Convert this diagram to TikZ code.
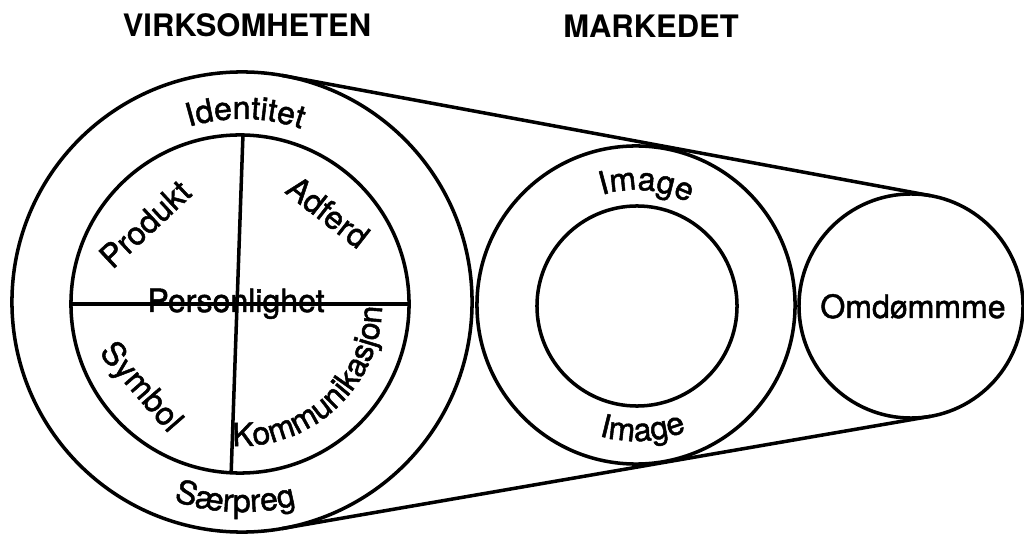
\documentclass[tikz,border=0pt]{standalone}
\usepackage{fontspec}
\setmainfont{TeX Gyre Heros}
\newfontfamily\medfont{TeX Gyre Heros}[FakeBold=1.5]
\usetikzlibrary{calc,decorations.text}
\newcommand{\lbl}{\medfont\fontsize{22.8pt}{27pt}\selectfont}
\newcommand{\hdg}{\fontsize{22pt}{26pt}\selectfont\bfseries}
\tikzset{
  ring/.style={circle,draw,line width=2.5pt,inner sep=0pt,outer sep=0pt,minimum size=#1},
  arctext/.style={decorate,decoration={text along path,text align=center,text={|\lbl|#1}}},
}
\begin{document}
\begin{tikzpicture}[x=0.025cm,y=0.025cm,line width=2.5pt]
  \useasboundingbox(0,0)rectangle(1024,533);
  \node[ring=11.5cm](big)at(242,231){};
  \node[ring=8.45cm](pers)at(240,229){};
  \node[ring=7.95cm](mark)at(636,228){};
  \node[ring=5cm](imgin)at(637,227){};
  \node[ring=5.6cm](omd)at(911,227){};
  \draw(big.80)--(omd.80);
  \draw(big.-80)--(omd.-80);
  \draw(pers.west)--(pers.east);
  \draw(pers.89)--(pers.267);
  \node[font=\hdg](virk)at(247,508){VIRKSOMHETEN};
  \node[font=\hdg](marked)at(651,507){MARKEDET};
  \node[font=\lbl,rotate=43](produkt)at(145,309){Produkt};
  \node[font=\lbl,rotate=-38](adferd)at(328,321){Adferd};
  \node[font=\lbl,rotate=-49](symbol)at(140,145){Symbol};
  \node[font=\lbl,anchor=base](personlighet)at(236,221){Personlighet};
  \node[font=\lbl,anchor=base](omdomme)at(913,215){Omdømmme};
  \path[arctext=Identitet]($(big.center)+(119:4.575cm)$)arc[start angle=119,end angle=59,radius=4.575cm];
  \path[arctext=Særpreg]($(big.center)+(244:5.25cm)$)arc[start angle=244,end angle=292,radius=5.25cm];
  \path[arctext=Kommunikasjon]($(pers.center)+(253:3.55cm)$)arc[start angle=253,end angle=373,radius=3.55cm];
  \path[arctext=Image]($(mark.center)+(120:2.875cm)$)arc[start angle=120,end angle=50,radius=2.875cm];
  \path[arctext=Image]($(mark.center)+(243:3.4cm)$)arc[start angle=243,end angle=303,radius=3.4cm];
\end{tikzpicture}
\end{document}
